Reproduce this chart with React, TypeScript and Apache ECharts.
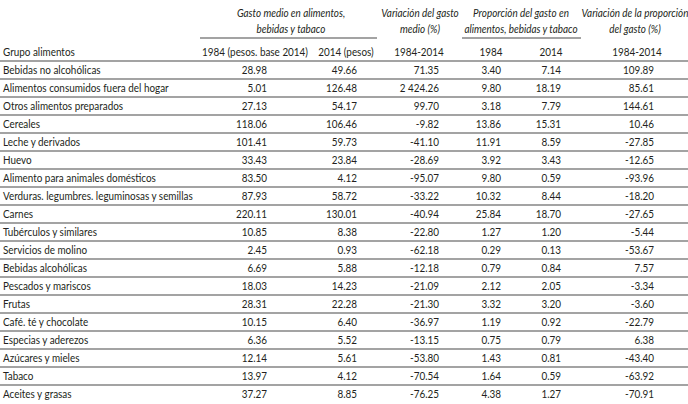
import React, { useEffect, useRef } from "react";
import * as echarts from "echarts";

const categories = [
  "Bebidas no alcohólicas",
  "Alimentos consumidos fuera del hogar",
  "Otros alimentos preparados",
  "Cereales",
  "Leche y derivados",
  "Huevo",
  "Alimento para animales domésticos",
  "Verduras. legumbres. leguminosas y semillas",
  "Carnes",
  "Tubérculos y similares",
  "Servicios de molino",
  "Bebidas alcohólicas",
  "Pescados y mariscos",
  "Frutas",
  "Café. té y chocolate",
  "Especias y aderezos",
  "Azúcares y mieles",
  "Tabaco",
  "Aceites y grasas",
];
const gasto1984 = [28.98, 5.01, 27.13, 118.06, 101.41, 33.43, 83.5, 87.93, 220.11, 10.85, 2.45, 6.69, 18.03, 28.31, 10.15, 6.36, 12.14, 13.97, 37.27];
const gasto2014 = [49.66, 126.48, 54.17, 106.46, 59.73, 23.84, 4.12, 58.72, 130.01, 8.38, 0.93, 5.88, 14.23, 22.28, 6.4, 5.52, 5.61, 4.12, 8.85];
const varGasto = [71.35, 2424.26, 99.7, -9.82, -41.1, -28.69, -95.07, -33.22, -40.94, -22.8, -62.18, -12.18, -21.09, -21.3, -36.97, -13.15, -53.8, -70.54, -76.25];
const prop1984 = [3.4, 9.8, 3.18, 13.86, 11.91, 3.92, 9.8, 10.32, 25.84, 1.27, 0.29, 0.79, 2.12, 3.32, 1.19, 0.75, 1.43, 1.64, 4.38];
const prop2014 = [7.14, 18.19, 7.79, 15.31, 8.59, 3.43, 0.59, 8.44, 18.7, 1.2, 0.13, 0.84, 2.05, 3.2, 0.92, 0.79, 0.81, 0.59, 1.27];
const varProp = [109.89, 85.61, 144.61, 10.46, -27.85, -12.65, -93.96, -18.2, -27.65, -5.44, -53.67, 7.57, -3.34, -3.6, -22.79, 6.38, -43.4, -63.92, -70.91];

const colHeaders = ["Grupo alimentos", "1984 (pesos. base 2014)", "2014 (pesos)", "1984-2014", "1984", "2014", "1984-2014"];
const groupHeaders = [
  ["Gasto medio en alimentos,", "bebidas y tabaco"],
  ["Variación del gasto", "medio (%)"],
  ["Proporción del gasto en", "alimentos, bebidas y tabaco"],
  ["Variación de la proporción", "del gasto (%)"],
];

const FONT = "Lato, 'Open Sans', sans-serif";
const TEXT = "#231f20";
const LINE = "#858585";
const FS = 11;
const SX = 0.9;

const colRight = [267, 357, 439, 501, 561, 654];
const colHeaderCenter = [255, 346, 419, 491, 551, 637];
const groupCenter = [291, 420, 521, 635];
const groupUnderline: (null | [number, number])[] = [[200, 377], null, [462, 581], null];

function fmt(v: number): string {
  const s = Math.abs(v).toFixed(2);
  const [ip, dp] = s.split(".");
  const withSep = ip.replace(/\B(?=(\d{3})+(?!\d))/g, " ");
  return (v < 0 ? "-" : "") + withSep + "." + dp;
}

function txt(t: string, x: number, y: number, align: string, italic = false) {
  return {
    type: "text",
    x,
    y,
    scaleX: SX,
    style: {
      text: t,
      font: `${italic ? "italic " : ""}${FS}px ${FONT}`,
      fill: TEXT,
      textAlign: align,
      textVerticalAlign: "middle",
    },
  };
}

export default function App() {
  const ref = useRef<HTMLDivElement>(null);
  useEffect(() => {
    if (!ref.current) return;
    const chart = echarts.init(ref.current, undefined, { renderer: "svg" });
    const columns = [gasto1984, gasto2014, varGasto, prop1984, prop2014, varProp];

    const graphics: any[] = [];
    groupHeaders.forEach((lines, g) => {
      lines.forEach((t, li) => {
        graphics.push(txt(t, groupCenter[g], 13 + li * 16, "center", true));
      });
      const u = groupUnderline[g];
      if (u) {
        graphics.push({
          type: "line",
          shape: { x1: u[0], y1: 38, x2: u[1], y2: 38 },
          style: { stroke: LINE, lineWidth: 1.4 },
        });
      }
    });
    colHeaders.forEach((t, c) => {
      graphics.push(txt(t, c === 0 ? 3 : colHeaderCenter[c - 1], 52, c === 0 ? "left" : "center"));
    });

    chart.setOption({
      animation: false,
      grid: { left: 0, right: 0, top: 61, bottom: 1 },
      xAxis: { type: "value", show: false, min: 0, max: 1 },
      yAxis: { type: "category", data: categories, inverse: true, show: false },
      graphic: graphics,
      series: [
        {
          type: "custom",
          silent: true,
          clip: false,
          encode: { x: 0, y: 1 },
          data: categories.map((_, i) => [0, i]),
          renderItem: (params: any, api: any) => {
            const i = api.value(1);
            const yc = api.coord([0, i])[1];
            const band = api.size([0, 1])[1];
            const children: any[] = [
              {
                type: "line",
                shape: { x1: 0, y1: yc - band / 2, x2: 688, y2: yc - band / 2 },
                style: { stroke: LINE, lineWidth: 1.4 },
              },
              txt(categories[i], 3, yc, "left"),
            ];
            columns.forEach((col, c) => {
              children.push(txt(fmt(col[i]), colRight[c], yc, "right"));
            });
            return { type: "group", children };
          },
        },
      ],
    });
    return () => chart.dispose();
  }, []);
  return <div ref={ref} style={{ position: "absolute", left: 0, top: 0, width: 688, height: 404, background: "#fff" }} />;
}
